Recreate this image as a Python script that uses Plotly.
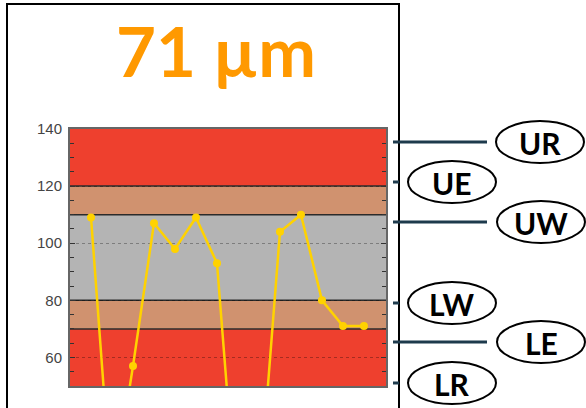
import plotly.graph_objects as go

# ---- data ----
sample_index = list(range(14))
thickness = [109, 10, 57, 107, 98, 109, 93, 0, 10, 104, 110, 80, 71, 71]
y_ticks = [60, 80, 100, 120, 140]
title_text = "71 µm"

band_edges = [50, 70, 80, 110, 120, 140]
band_names = ["red", "tan", "gray", "tan", "red"]
limit_labels = ["UR", "UE", "UW", "LW", "LE", "LR"]

# ---- styling ----
W, H = 586, 408
L, T = 70, 129
R = W - 386
B = H - 386
PW, PH = W - L - R, H - T - B
def px(x):
    return (x - L) / PW
def py(y):
    return (H - B - y) / PH

band_colors = {"red": "rgb(238,64,46)", "tan": "rgb(208,146,111)", "gray": "rgb(180,180,180)"}

fig = go.Figure()
fig.add_trace(go.Scatter(
    x=sample_index, y=thickness, mode="lines+markers",
    line=dict(color="#FFD200", width=2.5),
    marker=dict(color="#FFD200", size=8),
    cliponaxis=True, showlegend=False, hoverinfo="skip"))

shapes = []
for i, name in enumerate(band_names):
    shapes.append(dict(type="rect", xref="paper", yref="y", x0=0, x1=1,
                       y0=band_edges[i], y1=band_edges[i + 1],
                       fillcolor=band_colors[name], line=dict(width=0), layer="below"))
for e in band_edges[1:-1]:
    shapes.append(dict(type="line", xref="paper", yref="y", x0=0, x1=1, y0=e, y1=e,
                       line=dict(color="#2b2b2b", width=1.5), layer="between"))

# outer box
shapes.append(dict(type="rect", xref="paper", yref="paper",
                   x0=px(7), x1=px(399), y0=py(420), y1=py(4),
                   line=dict(color="black", width=2), fillcolor="rgba(0,0,0,0)"))

# limit markers on the right
line_y = [142, 182, 222, 303, 342, 383]
long_line = [True, False, True, False, True, False]
ell_cx = [540, 452, 541, 452, 541, 452]
annotations = []
for lab, yy, lg, cx in zip(limit_labels, line_y, long_line, ell_cx):
    x1 = 487 if lg else 399
    shapes.append(dict(type="line", xref="paper", yref="paper",
                       x0=px(393), x1=px(x1), y0=py(yy), y1=py(yy),
                       line=dict(color="#1d3a4c", width=3)))
    shapes.append(dict(type="circle", xref="paper", yref="paper",
                       x0=px(cx - 44), x1=px(cx + 44), y0=py(yy + 21), y1=py(yy - 21),
                       line=dict(color="black", width=2), fillcolor="white"))
    annotations.append(dict(text=lab, xref="paper", yref="paper", x=px(cx), y=py(yy + 1),
                            xanchor="center", yanchor="middle", showarrow=False,
                            font=dict(family="Lato", size=30, color="black", weight="bold")))

annotations.append(dict(text=title_text, xref="paper", yref="paper", x=px(216), y=py(51),
                        xanchor="center", yanchor="middle", showarrow=False,
                        font=dict(family="Lato", size=69, color="#FF9900", weight="bold")))

fig.update_layout(
    width=W, height=H, margin=dict(l=L, r=R, t=T, b=B, pad=0),
    paper_bgcolor="white", plot_bgcolor="white",
    shapes=shapes, annotations=annotations,
    xaxis=dict(range=[-1, 14.05], showgrid=False, zeroline=False, showticklabels=False,
               ticks="", showline=True, linecolor="#666", linewidth=2, mirror=True),
    yaxis=dict(range=[50, 140], tickvals=y_ticks, showgrid=True, gridcolor="rgba(0,0,0,0.3)",
               griddash="dot", gridwidth=1, zeroline=False,
               ticks="inside", ticklen=5, tickcolor="#333", tickwidth=1,
               showline=True, linecolor="#666", linewidth=2, mirror="ticks",
               ticklabelstandoff=3,
               tickfont=dict(family="Liberation Sans", size=15, color="#444"),
               minor=dict(dtick=5, ticks="inside", ticklen=4, tickcolor="#333", showgrid=False)),
)

fig.write_html("out.html", config={"displayModeBar": False},
               post_script="document.body.style.margin='0';document.body.style.overflow='hidden';")
